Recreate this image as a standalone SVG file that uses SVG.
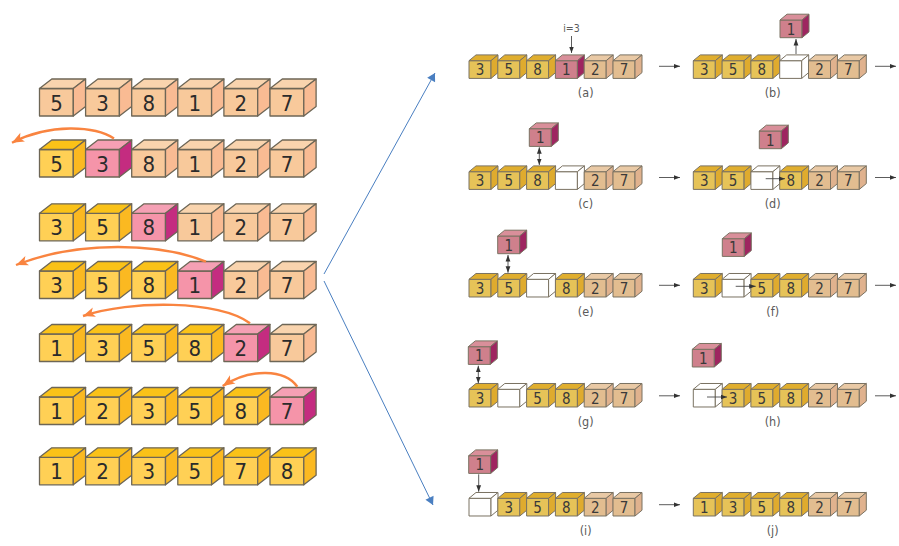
<svg xmlns="http://www.w3.org/2000/svg" width="899" height="546" viewBox="0 0 899 546">
<style>
text{font-family:"DejaVu Sans Condensed","DejaVu Sans",sans-serif;text-anchor:middle;fill:#2b2b2b}
.L{font-size:22px}
.R{font-size:15px;fill:#3a3a3a}
.cap{font-size:12.5px;fill:#5a5a5a}
.e{stroke:#6d6656;stroke-width:1.3;stroke-linejoin:round}
.r{stroke:#7a7262;stroke-width:1;stroke-linejoin:round}
.a{fill:none;stroke:#4a4a4a;stroke-width:.9}
.o{fill:none;stroke:#f98440;stroke-width:2.4}
.b{fill:none;stroke:#4a7fc1;stroke-width:1}
</style>
<defs>
<marker id="ah" markerUnits="userSpaceOnUse" markerWidth="7" markerHeight="6" viewBox="0 0 7 6" refX="6.5" refY="3" orient="auto-start-reverse"><path d="M0,.6L6.5,3L0,5.4z" fill="#333"/></marker>
<marker id="oh" markerUnits="userSpaceOnUse" markerWidth="14" markerHeight="12" viewBox="0 0 14 12" refX="13" refY="6" orient="auto"><path d="M1,1L13,6L1,11L4,6z" fill="#f98440"/></marker>
<marker id="bh" markerUnits="userSpaceOnUse" markerWidth="10" markerHeight="10" viewBox="0 0 10 10" refX="9" refY="5" orient="auto"><path d="M1,.5L9,5L1,9.5z" fill="#4a7fc1"/></marker>
<g id="P"><path class="e" fill="#f8c99b" d="M0,0h33.8v27.5h-33.8z"/><path class="e" fill="#f9d4ae" d="M0,0L12.3,-9.5h33.8L33.8,0z"/><path class="e" fill="#f9bb93" d="M33.8,0L46.1,-9.5v27.5L33.8,27.5z"/></g>
<g id="Y"><path class="e" fill="#ffd055" d="M0,0h33.8v27.5h-33.8z"/><path class="e" fill="#fac218" d="M0,0L12.3,-9.5h33.8L33.8,0z"/><path class="e" fill="#fbb921" d="M33.8,0L46.1,-9.5v27.5L33.8,27.5z"/></g>
<g id="M"><path class="e" fill="#f594a9" d="M0,0h33.8v27.5h-33.8z"/><path class="e" fill="#f5a0b4" d="M0,0L12.3,-9.5h33.8L33.8,0z"/><path class="e" fill="#c42c80" d="M33.8,0L46.1,-9.5v27.5L33.8,27.5z"/></g>
<g id="rP"><path class="r" fill="#e2bd90" d="M0,0h22v17.7h-22z"/><path class="r" fill="#e9c9a5" d="M0,0L7,-5.8h22L22,0z"/><path class="r" fill="#e0b28e" d="M22,0L29,-5.8v17.7L22,17.7z"/></g>
<g id="rY"><path class="r" fill="#e6c358" d="M0,0h22v17.7h-22z"/><path class="r" fill="#e0ae2e" d="M0,0L7,-5.8h22L22,0z"/><path class="r" fill="#dfab2e" d="M22,0L29,-5.8v17.7L22,17.7z"/></g>
<g id="rM"><path class="r" fill="#cf808c" d="M0,0h22v17.7h-22z"/><path class="r" fill="#d98f9a" d="M0,0L7,-5.8h22L22,0z"/><path class="r" fill="#9e2560" d="M22,0L29,-5.8v17.7L22,17.7z"/></g>
<g id="rW"><path class="r" fill="#fff" d="M0,0h22v17.7h-22z"/><path class="r" fill="#fff" d="M0,0L7,-5.8h22L22,0z"/><path class="r" fill="#fff" d="M22,0L29,-5.8v17.7L22,17.7z"/></g>
</defs>

<g id="left-row-1">
<g id="l1a" transform="translate(39.5 88.5)"><use href="#P"/><text class="L" x="17" y="22">5</text></g>
<g id="l1b" transform="translate(85.6 88.5)"><use href="#P"/><text class="L" x="17" y="22">3</text></g>
<g id="l1c" transform="translate(131.7 88.5)"><use href="#P"/><text class="L" x="17" y="22">8</text></g>
<g id="l1d" transform="translate(177.8 88.5)"><use href="#P"/><text class="L" x="17" y="22">1</text></g>
<g id="l1e" transform="translate(223.9 88.5)"><use href="#P"/><text class="L" x="17" y="22">2</text></g>
<g id="l1f" transform="translate(270 88.5)"><use href="#P"/><text class="L" x="17" y="22">7</text></g>
</g>
<g id="left-row-2">
<g id="l2a" transform="translate(39.5 149.5)"><use href="#Y"/><text class="L" x="17" y="22">5</text></g>
<g id="l2b" transform="translate(85.6 149.5)"><use href="#M"/><text class="L" x="17" y="22">3</text></g>
<g id="l2c" transform="translate(131.7 149.5)"><use href="#P"/><text class="L" x="17" y="22">8</text></g>
<g id="l2d" transform="translate(177.8 149.5)"><use href="#P"/><text class="L" x="17" y="22">1</text></g>
<g id="l2e" transform="translate(223.9 149.5)"><use href="#P"/><text class="L" x="17" y="22">2</text></g>
<g id="l2f" transform="translate(270 149.5)"><use href="#P"/><text class="L" x="17" y="22">7</text></g>
</g>
<g id="left-row-3">
<g id="l3a" transform="translate(39.5 213.3)"><use href="#Y"/><text class="L" x="17" y="22">3</text></g>
<g id="l3b" transform="translate(85.6 213.3)"><use href="#Y"/><text class="L" x="17" y="22">5</text></g>
<g id="l3c" transform="translate(131.7 213.3)"><use href="#M"/><text class="L" x="17" y="22">8</text></g>
<g id="l3d" transform="translate(177.8 213.3)"><use href="#P"/><text class="L" x="17" y="22">1</text></g>
<g id="l3e" transform="translate(223.9 213.3)"><use href="#P"/><text class="L" x="17" y="22">2</text></g>
<g id="l3f" transform="translate(270 213.3)"><use href="#P"/><text class="L" x="17" y="22">7</text></g>
</g>
<g id="left-row-4">
<g id="l4a" transform="translate(39.5 271)"><use href="#Y"/><text class="L" x="17" y="22">3</text></g>
<g id="l4b" transform="translate(85.6 271)"><use href="#Y"/><text class="L" x="17" y="22">5</text></g>
<g id="l4c" transform="translate(131.7 271)"><use href="#Y"/><text class="L" x="17" y="22">8</text></g>
<g id="l4d" transform="translate(177.8 271)"><use href="#M"/><text class="L" x="17" y="22">1</text></g>
<g id="l4e" transform="translate(223.9 271)"><use href="#P"/><text class="L" x="17" y="22">2</text></g>
<g id="l4f" transform="translate(270 271)"><use href="#P"/><text class="L" x="17" y="22">7</text></g>
</g>
<g id="left-row-5">
<g id="l5a" transform="translate(39.5 334)"><use href="#Y"/><text class="L" x="17" y="22">1</text></g>
<g id="l5b" transform="translate(85.6 334)"><use href="#Y"/><text class="L" x="17" y="22">3</text></g>
<g id="l5c" transform="translate(131.7 334)"><use href="#Y"/><text class="L" x="17" y="22">5</text></g>
<g id="l5d" transform="translate(177.8 334)"><use href="#Y"/><text class="L" x="17" y="22">8</text></g>
<g id="l5e" transform="translate(223.9 334)"><use href="#M"/><text class="L" x="17" y="22">2</text></g>
<g id="l5f" transform="translate(270 334)"><use href="#P"/><text class="L" x="17" y="22">7</text></g>
</g>
<g id="left-row-6">
<g id="l6a" transform="translate(39.5 397)"><use href="#Y"/><text class="L" x="17" y="22">1</text></g>
<g id="l6b" transform="translate(85.6 397)"><use href="#Y"/><text class="L" x="17" y="22">2</text></g>
<g id="l6c" transform="translate(131.7 397)"><use href="#Y"/><text class="L" x="17" y="22">3</text></g>
<g id="l6d" transform="translate(177.8 397)"><use href="#Y"/><text class="L" x="17" y="22">5</text></g>
<g id="l6e" transform="translate(223.9 397)"><use href="#Y"/><text class="L" x="17" y="22">8</text></g>
<g id="l6f" transform="translate(270 397)"><use href="#M"/><text class="L" x="17" y="22">7</text></g>
</g>
<g id="left-row-7">
<g id="l7a" transform="translate(39.5 457.3)"><use href="#Y"/><text class="L" x="17" y="22">1</text></g>
<g id="l7b" transform="translate(85.6 457.3)"><use href="#Y"/><text class="L" x="17" y="22">2</text></g>
<g id="l7c" transform="translate(131.7 457.3)"><use href="#Y"/><text class="L" x="17" y="22">3</text></g>
<g id="l7d" transform="translate(177.8 457.3)"><use href="#Y"/><text class="L" x="17" y="22">5</text></g>
<g id="l7e" transform="translate(223.9 457.3)"><use href="#Y"/><text class="L" x="17" y="22">7</text></g>
<g id="l7f" transform="translate(270 457.3)"><use href="#Y"/><text class="L" x="17" y="22">8</text></g>
</g>

<g id="step-a">
<g id="a1" transform="translate(469 60.7)"><use href="#rY"/><text class="R" x="11" y="14.5">3</text></g>
<g id="a2" transform="translate(497.8 60.7)"><use href="#rY"/><text class="R" x="11" y="14.5">5</text></g>
<g id="a3" transform="translate(526.6 60.7)"><use href="#rY"/><text class="R" x="11" y="14.5">8</text></g>
<g id="a4" transform="translate(555.4 60.7)"><use href="#rM"/><text class="R" x="11" y="14.5">1</text></g>
<g id="a5" transform="translate(584.2 60.7)"><use href="#rP"/><text class="R" x="11" y="14.5">2</text></g>
<g id="a6" transform="translate(613 60.7)"><use href="#rP"/><text class="R" x="11" y="14.5">7</text></g>
<text class="cap" x="585.7" y="96.5">(a)</text>
<text class="cap" x="571.5" y="32" style="font-size:10.5px">i=3</text>
</g>
<g id="step-b">
<g id="b1" transform="translate(693.3 60.7)"><use href="#rY"/><text class="R" x="11" y="14.5">3</text></g>
<g id="b2" transform="translate(722.1 60.7)"><use href="#rY"/><text class="R" x="11" y="14.5">5</text></g>
<g id="b3" transform="translate(750.9 60.7)"><use href="#rY"/><text class="R" x="11" y="14.5">8</text></g>
<g id="b4" transform="translate(779.7 60.7)"><use href="#rW"/></g>
<g id="b5" transform="translate(808.5 60.7)"><use href="#rP"/><text class="R" x="11" y="14.5">2</text></g>
<g id="b6" transform="translate(837.3 60.7)"><use href="#rP"/><text class="R" x="11" y="14.5">7</text></g>
<g id="b7" transform="translate(780 20)"><use href="#rM"/><text class="R" x="11" y="14.5">1</text></g>
<text class="cap" x="772.7" y="96.5">(b)</text>
</g>
<g id="step-c">
<g id="c1" transform="translate(469 171.7)"><use href="#rY"/><text class="R" x="11" y="14.5">3</text></g>
<g id="c2" transform="translate(497.8 171.7)"><use href="#rY"/><text class="R" x="11" y="14.5">5</text></g>
<g id="c3" transform="translate(526.6 171.7)"><use href="#rY"/><text class="R" x="11" y="14.5">8</text></g>
<g id="c4" transform="translate(555.4 171.7)"><use href="#rW"/></g>
<g id="c5" transform="translate(584.2 171.7)"><use href="#rP"/><text class="R" x="11" y="14.5">2</text></g>
<g id="c6" transform="translate(613 171.7)"><use href="#rP"/><text class="R" x="11" y="14.5">7</text></g>
<g id="c7" transform="translate(529.3 128.7)"><use href="#rM"/><text class="R" x="11" y="14.5">1</text></g>
<text class="cap" x="585.7" y="207.5">(c)</text>
</g>
<g id="step-d">
<g id="d1" transform="translate(693.3 171.7)"><use href="#rY"/><text class="R" x="11" y="14.5">3</text></g>
<g id="d2" transform="translate(722.1 171.7)"><use href="#rY"/><text class="R" x="11" y="14.5">5</text></g>
<g id="d3" transform="translate(750.9 171.7)"><use href="#rW"/></g>
<g id="d4" transform="translate(779.7 171.7)"><use href="#rY"/><text class="R" x="11" y="14.5">8</text></g>
<g id="d5" transform="translate(808.5 171.7)"><use href="#rP"/><text class="R" x="11" y="14.5">2</text></g>
<g id="d6" transform="translate(837.3 171.7)"><use href="#rP"/><text class="R" x="11" y="14.5">7</text></g>
<g id="d7" transform="translate(759.3 131)"><use href="#rM"/><text class="R" x="11" y="14.5">1</text></g>
<text class="cap" x="772.7" y="207.5">(d)</text>
</g>
<g id="step-e">
<g id="e1" transform="translate(469 279.3)"><use href="#rY"/><text class="R" x="11" y="14.5">3</text></g>
<g id="e2" transform="translate(497.8 279.3)"><use href="#rY"/><text class="R" x="11" y="14.5">5</text></g>
<g id="e3" transform="translate(526.6 279.3)"><use href="#rW"/></g>
<g id="e4" transform="translate(555.4 279.3)"><use href="#rY"/><text class="R" x="11" y="14.5">8</text></g>
<g id="e5" transform="translate(584.2 279.3)"><use href="#rP"/><text class="R" x="11" y="14.5">2</text></g>
<g id="e6" transform="translate(613 279.3)"><use href="#rP"/><text class="R" x="11" y="14.5">7</text></g>
<g id="e7" transform="translate(497.7 236)"><use href="#rM"/><text class="R" x="11" y="14.5">1</text></g>
<text class="cap" x="585.7" y="316">(e)</text>
</g>
<g id="step-f">
<g id="f1" transform="translate(693.3 279.3)"><use href="#rY"/><text class="R" x="11" y="14.5">3</text></g>
<g id="f2" transform="translate(722.1 279.3)"><use href="#rW"/></g>
<g id="f3" transform="translate(750.9 279.3)"><use href="#rY"/><text class="R" x="11" y="14.5">5</text></g>
<g id="f4" transform="translate(779.7 279.3)"><use href="#rY"/><text class="R" x="11" y="14.5">8</text></g>
<g id="f5" transform="translate(808.5 279.3)"><use href="#rP"/><text class="R" x="11" y="14.5">2</text></g>
<g id="f6" transform="translate(837.3 279.3)"><use href="#rP"/><text class="R" x="11" y="14.5">7</text></g>
<g id="f7" transform="translate(722.3 238.7)"><use href="#rM"/><text class="R" x="11" y="14.5">1</text></g>
<text class="cap" x="772.7" y="316">(f)</text>
</g>
<g id="step-g">
<g id="g1" transform="translate(469 389.3)"><use href="#rY"/><text class="R" x="11" y="14.5">3</text></g>
<g id="g2" transform="translate(497.8 389.3)"><use href="#rW"/></g>
<g id="g3" transform="translate(526.6 389.3)"><use href="#rY"/><text class="R" x="11" y="14.5">5</text></g>
<g id="g4" transform="translate(555.4 389.3)"><use href="#rY"/><text class="R" x="11" y="14.5">8</text></g>
<g id="g5" transform="translate(584.2 389.3)"><use href="#rP"/><text class="R" x="11" y="14.5">2</text></g>
<g id="g6" transform="translate(613 389.3)"><use href="#rP"/><text class="R" x="11" y="14.5">7</text></g>
<g id="g7" transform="translate(468.3 346.7)"><use href="#rM"/><text class="R" x="11" y="14.5">1</text></g>
<text class="cap" x="585.7" y="426">(g)</text>
</g>
<g id="step-h">
<g id="h1" transform="translate(693.3 389.3)"><use href="#rW"/></g>
<g id="h2" transform="translate(722.1 389.3)"><use href="#rY"/><text class="R" x="11" y="14.5">3</text></g>
<g id="h3" transform="translate(750.9 389.3)"><use href="#rY"/><text class="R" x="11" y="14.5">5</text></g>
<g id="h4" transform="translate(779.7 389.3)"><use href="#rY"/><text class="R" x="11" y="14.5">8</text></g>
<g id="h5" transform="translate(808.5 389.3)"><use href="#rP"/><text class="R" x="11" y="14.5">2</text></g>
<g id="h6" transform="translate(837.3 389.3)"><use href="#rP"/><text class="R" x="11" y="14.5">7</text></g>
<g id="h7" transform="translate(692.3 349.3)"><use href="#rM"/><text class="R" x="11" y="14.5">1</text></g>
<text class="cap" x="772.7" y="426">(h)</text>
</g>
<g id="step-i">
<g id="i1" transform="translate(469 498.3)"><use href="#rW"/></g>
<g id="i2" transform="translate(497.8 498.3)"><use href="#rY"/><text class="R" x="11" y="14.5">3</text></g>
<g id="i3" transform="translate(526.6 498.3)"><use href="#rY"/><text class="R" x="11" y="14.5">5</text></g>
<g id="i4" transform="translate(555.4 498.3)"><use href="#rY"/><text class="R" x="11" y="14.5">8</text></g>
<g id="i5" transform="translate(584.2 498.3)"><use href="#rP"/><text class="R" x="11" y="14.5">2</text></g>
<g id="i6" transform="translate(613 498.3)"><use href="#rP"/><text class="R" x="11" y="14.5">7</text></g>
<g id="i7" transform="translate(468.7 455.7)"><use href="#rM"/><text class="R" x="11" y="14.5">1</text></g>
<text class="cap" x="585.7" y="534.5">(i)</text>
</g>
<g id="step-j">
<g id="j1" transform="translate(693.3 498.3)"><use href="#rY"/><text class="R" x="11" y="14.5">1</text></g>
<g id="j2" transform="translate(722.1 498.3)"><use href="#rY"/><text class="R" x="11" y="14.5">3</text></g>
<g id="j3" transform="translate(750.9 498.3)"><use href="#rY"/><text class="R" x="11" y="14.5">5</text></g>
<g id="j4" transform="translate(779.7 498.3)"><use href="#rY"/><text class="R" x="11" y="14.5">8</text></g>
<g id="j5" transform="translate(808.5 498.3)"><use href="#rP"/><text class="R" x="11" y="14.5">2</text></g>
<g id="j6" transform="translate(837.3 498.3)"><use href="#rP"/><text class="R" x="11" y="14.5">7</text></g>
<text class="cap" x="772.7" y="534.5">(j)</text>
</g>

<g id="connectors">
<path class="o" marker-end="url(#oh)" d="M114,138.5C95,126 50,123 12,142.7"/>
<path class="o" marker-end="url(#oh)" d="M206,261.7C160,243 80,240 16,265"/>
<path class="o" marker-end="url(#oh)" d="M250,323.3C220,300 130,300 83,316"/>
<path class="o" marker-end="url(#oh)" d="M297.3,386.7C285,369 250,368 222.7,386"/>
<path class="b" marker-end="url(#bh)" d="M324,274L435,73"/>
<path class="b" marker-end="url(#bh)" d="M324,281L433,505"/>
<path class="a" marker-end="url(#ah)" d="M659,66.3H680"/>
<path class="a" marker-end="url(#ah)" d="M875,66.3H896"/>
<path class="a" marker-end="url(#ah)" d="M659,177.5H680"/>
<path class="a" marker-end="url(#ah)" d="M875,177.5H896"/>
<path class="a" marker-end="url(#ah)" d="M659,285.3H680"/>
<path class="a" marker-end="url(#ah)" d="M875,285.3H896"/>
<path class="a" marker-end="url(#ah)" d="M659,395.8H680"/>
<path class="a" marker-end="url(#ah)" d="M875,395.8H896"/>
<path class="a" marker-end="url(#ah)" d="M659,504.7H680"/>
<path class="a" marker-end="url(#ah)" d="M571.5,36V53"/>
<path class="a" marker-end="url(#ah)" d="M796,54V39"/>
<path class="a" marker-start="url(#ah)" marker-end="url(#ah)" d="M539.3,147.3V165"/>
<path class="a" marker-end="url(#ah)" d="M765.7,178.7H785"/>
<path class="a" marker-start="url(#ah)" marker-end="url(#ah)" d="M508,255V272.7"/>
<path class="a" marker-end="url(#ah)" d="M735.7,286.3H755.7"/>
<path class="a" marker-start="url(#ah)" marker-end="url(#ah)" d="M478.3,365.7V383.3"/>
<path class="a" marker-end="url(#ah)" d="M707,397H727"/>
<path class="a" marker-end="url(#ah)" d="M478.7,474.3V491.7"/>
</g>
</svg>
